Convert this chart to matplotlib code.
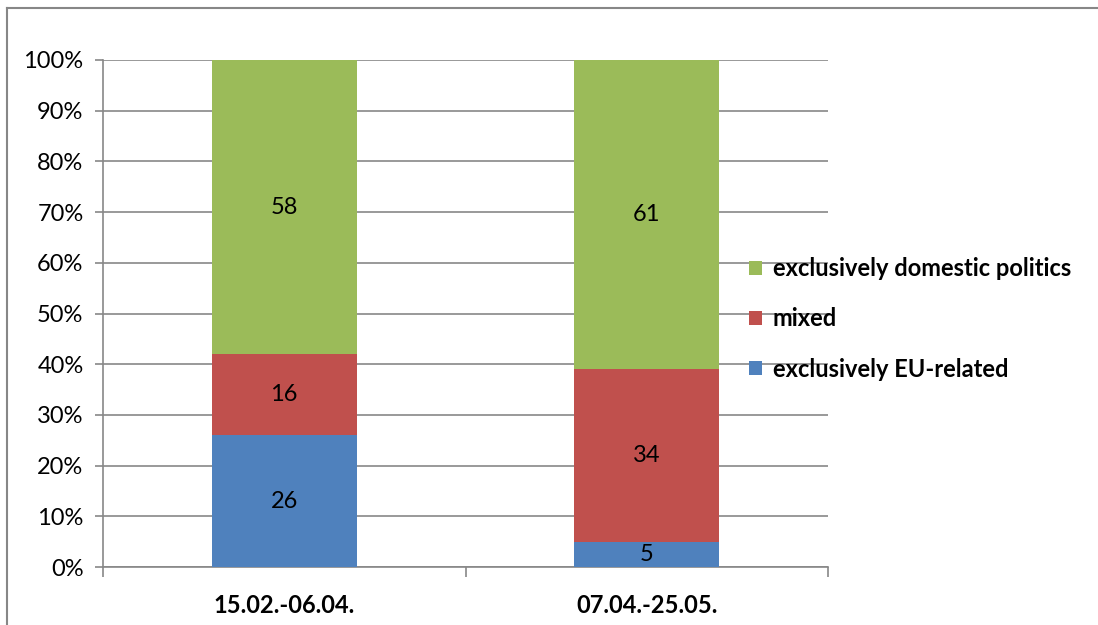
import matplotlib.pyplot as plt
from matplotlib.lines import Line2D
import numpy as np

periods = ['15.02.-06.04.', '07.04.-25.05.']
eu_related = [26, 5]
mixed = [16, 34]
domestic = [58, 61]

series = [('exclusively EU-related', eu_related, '#4f81bd'),
          ('mixed', mixed, '#c0504d'),
          ('exclusively domestic politics', domestic, '#9bbb59')]

plt.rcParams['font.family'] = ['Lato', 'DejaVu Sans']
GRID = '#878787'
FS = 17

fig = plt.figure(figsize=(10.98, 6.25), dpi=100)
ax = fig.add_axes([103 / 1098, 1 - 567 / 625, 725 / 1098, 507 / 625])

x = np.arange(len(periods))
totals = np.sum([s[1] for s in series], axis=0)
bottom = np.zeros(len(periods))
handles = []
for name, vals, color in series:
    pct = np.array(vals) / totals * 100
    bars = ax.bar(x, pct, 0.4, bottom=bottom, color=color, label=name, zorder=3)
    for xi, b, p, v in zip(x, bottom, pct, vals):
        ax.text(xi, b + p / 2, str(v), ha='center', va='center', fontsize=FS,
                color='black', zorder=4)
    bottom += pct
    handles.append(bars)

ax.set_xlim(-0.5, 1.5)
ax.set_ylim(0, 100)
ax.set_yticks(np.arange(0, 101, 10))
ax.set_yticklabels([f'{v}%' for v in range(0, 101, 10)], fontsize=FS)
ax.yaxis.grid(True, color=GRID, linewidth=1.2, zorder=0)
ax.tick_params(axis='y', length=6, width=1.2, color=GRID, pad=8)

ax.set_xticks([-0.5, 0.5, 1.5])
ax.set_xticklabels([])
ax.tick_params(axis='x', length=7, width=1.2, color=GRID, direction='out')
for xi, lab in zip(x, periods):
    ax.text(xi, -7.5, lab, ha='center', va='center', fontsize=FS,
            fontweight='bold', transform=ax.transData)

for side in ['top', 'right']:
    ax.spines[side].set_visible(False)
for side in ['left', 'bottom']:
    ax.spines[side].set_color(GRID)
    ax.spines[side].set_linewidth(1.2)

leg = fig.legend(handles[::-1], [s[0] for s in series][::-1],
                 loc='center left', bbox_to_anchor=(749 / 1098, 1 - 319 / 625),
                 frameon=False, prop={'size': FS, 'weight': 'bold'},
                 handlelength=0.55, handleheight=0.55, handletextpad=0.45,
                 labelspacing=1.15, borderaxespad=0, borderpad=0)

# outer chart frame (left and top edges visible)
fx, fy = 7 / 1098, 1 - 8 / 625
fig.add_artist(Line2D([fx, fx], [0, fy], transform=fig.transFigure,
                      color=GRID, linewidth=1.5))
fig.add_artist(Line2D([fx, 1], [fy, fy], transform=fig.transFigure,
                      color=GRID, linewidth=1.5))

fig.savefig('out.png', dpi=100, facecolor='white')
